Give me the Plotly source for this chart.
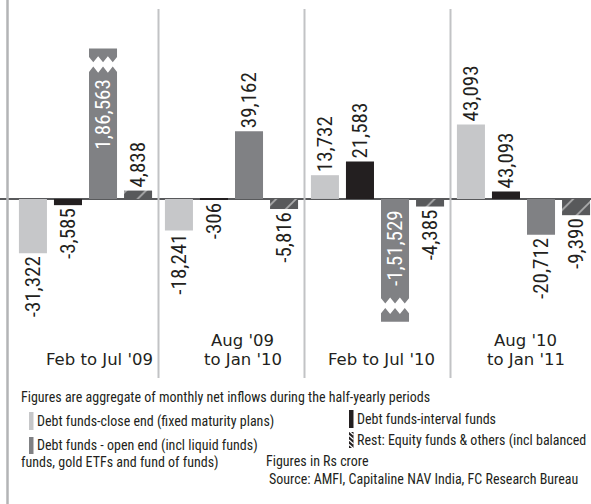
import plotly.graph_objects as go
import numpy as np

# ---------------- data ----------------
categories = ["Feb to Jul '09", "Aug '09<br>to Jan '10", "Feb to Jul '10", "Aug '10<br>to Jan '11"]
series_names = [
    "Debt funds-close end (fixed maturity plans)",
    "Debt funds-interval funds",
    "Debt funds - open end (incl liquid funds)",
    "Rest: Equity funds & others (incl balanced funds, gold ETFs and fund of funds)",
]
close_end = [-31322, -18241, 13732, 43093]
interval_funds = [-3585, -306, 21583, 4309]
open_end = [186563, 39162, -151529, -20712]
rest = [4838, -5816, -4385, -9390]
# the source prints 43,093 on the short interval-funds bar of Aug '10 - Jan '11
label_overrides = {(1, 3): "43,093"}

# axis break limits (bars beyond these are drawn broken)
BREAK_POS = 87000
BREAK_NEG = -71000

# ---------------- styles ----------------
NARROW = "Roboto Condensed, DejaVu Sans Condensed, sans-serif"
WIDE = "DejaVu Sans, Verdana, sans-serif"
INK = "#231f20"
colors = ["#c6c7c9", "#231f20", "#808184", "#58595b"]

W, H = 591, 504
PLOT_H = 378          # plot area height in px (top margin 0)
X_LEFT = -0.5856      # x-range so that each period spans 146 px
X_RIGHT = X_LEFT + W / 146.0
Y_MAX, Y_MIN = 115000, -103500

BARGAP, BARGROUPGAP = 0.04, 0.2
nser = 4
slot = (1 - BARGAP) / nser
bar_w = slot * (1 - BARGROUPGAP)


def indian(v):
    s = str(abs(int(v)))
    if len(s) > 3:
        head, tail = s[:-3], s[-3:]
        groups = []
        while len(head) > 2:
            groups.insert(0, head[-2:])
            head = head[:-2]
        if head:
            groups.insert(0, head)
        s = ",".join(groups + [tail])
    return ("-" if v < 0 else "") + s


def px_x(p):
    return p / W


def px_y(p):
    return (PLOT_H - p) / PLOT_H


all_series = [close_end, interval_funds, open_end, rest]
xs = list(range(len(categories)))

fig = go.Figure()
broken = []  # (x_center, value) of bars that are drawn broken
for si, vals in enumerate(all_series):
    vals = np.array(vals, dtype=float)
    shown = np.clip(vals, BREAK_NEG, BREAK_POS)
    texts = []
    for ci, v in enumerate(vals):
        if v > BREAK_POS or v < BREAK_NEG:
            texts.append("")
            broken.append((ci + (si - (nser - 1) / 2) * slot, v))
        else:
            texts.append(label_overrides.get((si, ci), indian(v)))
    marker = dict(color=colors[si], line=dict(width=0))
    if si == 3:
        marker["pattern"] = dict(shape="/", bgcolor=colors[3], fgcolor="white",
                                 size=14, solidity=0.12)
    fig.add_trace(go.Bar(
        x=xs, y=shown, name=series_names[si], marker=marker,
        text=texts, textposition="outside", textangle=-90,
        textfont=dict(family=NARROW, size=21, color=INK),
        constraintext="none", cliponaxis=False, showlegend=False,
        hoverinfo="skip",
    ))

shapes = []
annotations = []

# zig-zag breaks + inside labels on broken bars
STUB, TOOTH, GAP = 4500, 3500, 2500
for xc, v in broken:
    sign = 1 if v > 0 else -1
    end = BREAK_POS if v > 0 else BREAK_NEG
    v1 = end - sign * STUB
    t1 = v1 - sign * TOOTH
    t2 = t1 - sign * GAP
    v2 = t2 - sign * TOOTH
    hi_v, hi_t = max(v1, v2), max(t1, t2)
    lo_v, lo_t = min(v1, v2), min(t1, t2)
    x0, x1 = xc - bar_w / 2 - 0.004, xc + bar_w / 2 + 0.004
    ww = x1 - x0
    top = [(x0 + k * ww / 6, hi_v if k % 2 == 0 else hi_t) for k in range(7)]
    bot = [(x0 + k * ww / 6, lo_v if k % 2 == 0 else lo_t) for k in range(6, -1, -1)]
    pts = top + bot
    path = "M " + " L ".join(f"{px:.4f},{py:.1f}" for px, py in pts) + " Z"
    shapes.append(dict(type="path", xref="x", yref="y", path=path,
                       fillcolor="white", line=dict(width=0), layer="above"))
    if v > 0:
        ay, ys = lo_v, -5
    else:
        ay, ys = 0, -9
    annotations.append(dict(x=xc, y=ay, xref="x", yref="y", text=indian(v),
                            textangle=-90, showarrow=False, xanchor="center",
                            yanchor="top", yshift=ys,
                            font=dict(family=NARROW, size=21, color="white")))

# period dividers
for k in range(len(categories) - 1):
    shapes.append(dict(type="line", xref="x", yref="paper", x0=k + 0.5, x1=k + 0.5,
                       y0=px_y(378), y1=px_y(9), line=dict(color="#c2c3c5", width=2)))
# left border
shapes.append(dict(type="line", xref="paper", yref="paper", x0=px_x(7.5), x1=px_x(7.5),
                   y0=px_y(H), y1=px_y(0), line=dict(color="#b3b4b6", width=2.5)))

# period labels
label_shift = [14, 11, 4, 2]
for ci, cat in enumerate(categories):
    lines = cat.split("<br>")
    n = len(lines)
    for li, line in enumerate(lines):
        yc = 359.5 - (n - 1 - li) * 19
        annotations.append(dict(x=ci, y=px_y(yc), xref="x", yref="paper", text=line,
                                showarrow=False, xanchor="center", yanchor="middle",
                                xshift=label_shift[ci], borderpad=0,
                                font=dict(family=WIDE, size=16.5, color=INK)))

# custom legend / notes
def note(text, x, y):
    annotations.append(dict(x=px_x(x), y=px_y(y), xref="paper", yref="paper", text=text,
                            showarrow=False, xanchor="left", yanchor="middle", borderpad=0,
                            font=dict(family=NARROW, size=14, color=INK)))


def swatch(x, y0, y1, color):
    shapes.append(dict(type="rect", xref="paper", yref="paper", x0=px_x(x), x1=px_x(x + 4.5),
                       y0=px_y(y1), y1=px_y(y0), fillcolor=color, line=dict(width=0)))


note("Figures are aggregate of monthly net inflows during the half-yearly periods", 20, 397)
swatch(29, 412, 430, colors[0])
note(series_names[0], 36, 421)
swatch(349, 410, 428, colors[1])
note(series_names[1], 356, 419)
swatch(29, 437, 454, colors[2])
note(series_names[2], 36, 445)
swatch(349, 432, 448, INK)
for k in range(4):
    yy = 431 + k * 4.5
    shapes.append(dict(type="line", xref="paper", yref="paper", x0=px_x(349), x1=px_x(353.5),
                       y0=px_y(yy), y1=px_y(yy + 4), line=dict(color="white", width=1.2)))
rest_name = series_names[3]
split_at = rest_name.index(" funds, gold")
note(rest_name[:split_at], 356, 440)
note(rest_name[split_at + 1:], 20, 462)
note("Figures in Rs crore", 265, 461)
note("Source: AMFI, Capitaline NAV India, FC Research Bureau", 268, 479)

fig.update_layout(
    width=W, height=H, autosize=False,
    margin=dict(l=0, r=0, t=0, b=H - PLOT_H, pad=0),
    paper_bgcolor="white", plot_bgcolor="white",
    barmode="group", bargap=BARGAP, bargroupgap=BARGROUPGAP,
    xaxis=dict(range=[X_LEFT, X_RIGHT], showticklabels=False, showgrid=False,
               zeroline=False, showline=False, ticks="", fixedrange=True),
    yaxis=dict(range=[Y_MIN, Y_MAX], showticklabels=False, showgrid=False,
               zeroline=True, zerolinecolor="#58595b", zerolinewidth=2,
               showline=False, ticks="", fixedrange=True),
    shapes=shapes, annotations=annotations, showlegend=False,
)

fig.write_html("out.html")
